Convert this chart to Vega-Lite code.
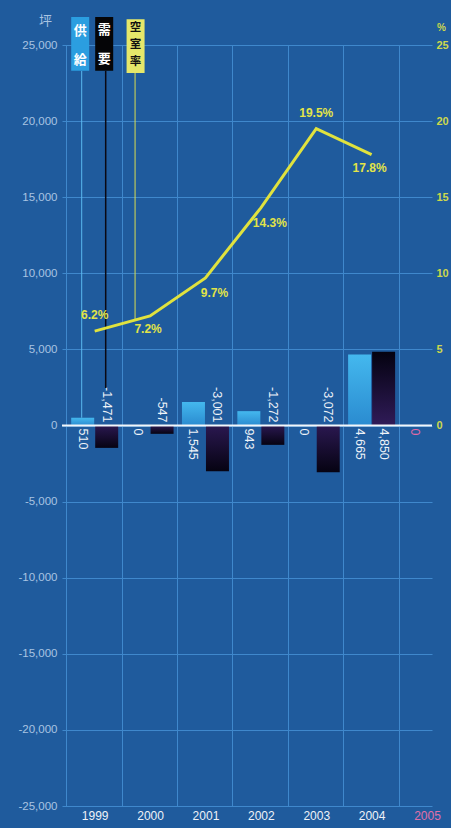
{
  "$schema": "https://vega.github.io/schema/vega-lite/v6.json",
  "width": 370,
  "height": 761,
  "autosize": "none",
  "padding": {"left": 62, "top": 45, "right": 19, "bottom": 22},
  "background": "#1f5b9d",
  "config": {
    "view": {"stroke": null},
    "font": "Liberation Sans, Arial, sans-serif",
    "locale": {"number": {"decimal": ".", "thousands": ",", "grouping": [3], "currency": ["$", ""], "minus": "-"}}
  },
  "datasets": {
    "main": [
      {"year": 1999, "supply": 510, "demand": -1471, "vacancy": 0.062},
      {"year": 2000, "supply": 0, "demand": -547, "vacancy": 0.072},
      {"year": 2001, "supply": 1545, "demand": -3001, "vacancy": 0.097},
      {"year": 2002, "supply": 943, "demand": -1272, "vacancy": 0.143},
      {"year": 2003, "supply": 0, "demand": -3072, "vacancy": 0.195},
      {"year": 2004, "supply": 4665, "demand": 4850, "vacancy": 0.178},
      {"year": 2005, "supply": 0, "demand": null, "vacancy": null}
    ]
  },
  "data": {"name": "main"},
  "layer": [
    {
      "layer": [
        {
          "transform": [{"filter": "datum.supply > 0"}],
          "mark": {"type": "bar", "orient": "vertical", "size": 23, "xOffset": -12,
            "color": {"gradient": "linear", "x1": 0, "y1": 0, "x2": 0, "y2": 1,
              "stops": [{"offset": 0, "color": "#44b8ee"}, {"offset": 1, "color": "#2a8bd0"}]}},
          "encoding": {
            "x": {"field": "year", "type": "quantitative",
              "scale": {"domain": [1998.5, 2005], "nice": false, "zero": false},
              "axis": {"title": null, "values": [1999, 2000, 2001, 2002, 2003, 2004, 2005], "format": "d",
                "grid": true, "gridColor": "#3f88cc", "gridWidth": 1, "tickOffset": -28.46, "labelOffset": 28.46,
                "labelFlush": true, "ticks": false, "domain": false, "labelPadding": 4, "labelFontSize": 12,
                "labelColor": {"condition": {"test": "datum.value == 2005", "value": "#e070a8"}, "value": "#eef2f8"}}},
            "y": {"field": "supply", "type": "quantitative", "title": "坪",
              "scale": {"domain": [-25000, 25000], "nice": false},
              "axis": {"titleAngle": 0, "titleX": -17, "titleY": -25, "titleAlign": "center", "titleBaseline": "middle",
                "titleColor": "#a9c4e2", "titleFontSize": 13, "titleFontWeight": "normal", "titleFont": "Noto Sans CJK JP",
                "values": [-25000, -20000, -15000, -10000, -5000, 0, 5000, 10000, 15000, 20000, 25000],
                "format": ",d", "grid": true, "gridColor": "#3f88cc", "ticks": false, "domain": false,
                "labelColor": "#a9c4e2", "labelFontSize": 11.5, "labelPadding": 5}}
          }
        },
        {
          "transform": [{"filter": "datum.demand > 0"}],
          "mark": {"type": "bar", "orient": "vertical", "size": 23, "xOffset": 12,
            "color": {"gradient": "linear", "x1": 0, "y1": 0, "x2": 0, "y2": 1,
              "stops": [{"offset": 0, "color": "#040210"}, {"offset": 1, "color": "#301b58"}]}},
          "encoding": {
            "x": {"field": "year", "type": "quantitative", "title": null},
            "y": {"field": "demand", "type": "quantitative", "title": "坪"}
          }
        },
        {
          "transform": [{"filter": "datum.demand < 0"}],
          "mark": {"type": "bar", "orient": "vertical", "size": 23, "xOffset": 12,
            "color": {"gradient": "linear", "x1": 0, "y1": 0, "x2": 0, "y2": 1,
              "stops": [{"offset": 0, "color": "#2a1850"}, {"offset": 1, "color": "#060312"}]}},
          "encoding": {
            "x": {"field": "year", "type": "quantitative", "title": null},
            "y": {"field": "demand", "type": "quantitative", "title": "坪"}
          }
        },
        {
          "data": {"values": [{}]},
          "mark": {"type": "rule", "color": "#f2f6fa", "strokeWidth": 2},
          "encoding": {"y": {"datum": 0}}
        },
        {
          "transform": [{"filter": "datum.supply != null"}],
          "mark": {"type": "text", "angle": 90, "align": "left", "baseline": "middle", "dx": 3, "xOffset": -12, "fontSize": 12.5},
          "encoding": {
            "x": {"field": "year", "type": "quantitative", "title": null},
            "y": {"datum": 0},
            "text": {"field": "supply", "type": "quantitative", "format": ","},
            "color": {"condition": {"test": "datum.year == 2005", "value": "#e36aa5"}, "value": "#eef2f8"}
          }
        },
        {
          "transform": [{"filter": "datum.demand != null && datum.demand >= 0"}],
          "mark": {"type": "text", "angle": 90, "align": "left", "baseline": "middle", "dx": 3, "xOffset": 12, "fontSize": 12.5, "color": "#eef2f8"},
          "encoding": {
            "x": {"field": "year", "type": "quantitative", "title": null},
            "y": {"datum": 0},
            "text": {"field": "demand", "type": "quantitative", "format": ","}
          }
        },
        {
          "transform": [{"filter": "datum.demand != null && datum.demand < 0"}],
          "mark": {"type": "text", "angle": 90, "align": "right", "baseline": "middle", "dx": -3, "xOffset": 12, "fontSize": 12.5, "color": "#eef2f8"},
          "encoding": {
            "x": {"field": "year", "type": "quantitative", "title": null},
            "y": {"datum": 0},
            "text": {"field": "demand", "type": "quantitative", "format": ","}
          }
        },
        {
          "data": {"values": [{}]},
          "mark": {"type": "rule", "color": "#5ab8ee", "strokeWidth": 1, "xOffset": -13},
          "encoding": {"x": {"datum": 1999}, "y": {"datum": 23300}, "y2": {"datum": 510}}
        },
        {
          "data": {"values": [{}]},
          "mark": {"type": "rule", "color": "#0a0812", "strokeWidth": 1.5, "xOffset": 11},
          "encoding": {"x": {"datum": 1999}, "y": {"datum": 23300}, "y2": {"datum": 2464}}
        },
        {
          "data": {"values": [{}]},
          "mark": {"type": "rule", "color": "#d8dc50", "strokeWidth": 1, "xOffset": -15},
          "encoding": {"x": {"datum": 2000}, "y": {"datum": 23160}, "y2": {"datum": 6930}}
        },
        {
          "data": {"values": [{}]},
          "mark": {"type": "bar", "orient": "vertical", "size": 18, "xOffset": -14.5, "color": "#2b9ee0"},
          "encoding": {"x": {"datum": 1999}, "y": {"datum": 26840}, "y2": {"datum": 23300}}
        },
        {
          "data": {"values": [{}]},
          "mark": {"type": "bar", "orient": "vertical", "size": 18, "xOffset": 9.5, "color": "#050507"},
          "encoding": {"x": {"datum": 1999}, "y": {"datum": 26840}, "y2": {"datum": 23300}}
        },
        {
          "data": {"values": [{}]},
          "mark": {"type": "bar", "orient": "vertical", "size": 18, "xOffset": -14.5, "color": "#e6e86a"},
          "encoding": {"x": {"datum": 2000}, "y": {"datum": 26700}, "y2": {"datum": 23160}}
        },
        {
          "data": {"values": [{}]},
          "mark": {"type": "text", "text": ["供", "給"], "font": "Noto Sans CJK JP", "fontWeight": "bold", "fontSize": 13, "lineHeight": 29, "align": "center", "baseline": "middle", "xOffset": -14.5, "color": "#ffffff"},
          "encoding": {"x": {"datum": 1999}, "y": {"datum": 25920}}
        },
        {
          "data": {"values": [{}]},
          "mark": {"type": "text", "text": ["需", "要"], "font": "Noto Sans CJK JP", "fontWeight": "bold", "fontSize": 13, "lineHeight": 29, "align": "center", "baseline": "middle", "xOffset": 9.5, "color": "#ffffff"},
          "encoding": {"x": {"datum": 1999}, "y": {"datum": 25980}}
        },
        {
          "data": {"values": [{}]},
          "mark": {"type": "text", "text": ["空", "室", "率"], "font": "Noto Sans CJK JP", "fontWeight": "bold", "fontSize": 11.5, "lineHeight": 17, "align": "center", "baseline": "middle", "xOffset": -14.5, "color": "#111111"},
          "encoding": {"x": {"datum": 2000}, "y": {"datum": 26120}}
        }
      ]
    },
    {
      "transform": [{"filter": "datum.vacancy != null"}],
      "layer": [
        {
          "mark": {"type": "line", "color": "#e0e23e", "strokeWidth": 3},
          "encoding": {
            "x": {"field": "year", "type": "quantitative", "title": null},
            "y": {"field": "vacancy", "type": "quantitative", "title": "%",
              "scale": {"domain": [-0.25, 0.25], "nice": false},
              "axis": {"orient": "right", "values": [0, 0.05, 0.1, 0.15, 0.2, 0.25], "format": ".0%",
                "labelExpr": "replace(datum.label, '%', '')", "grid": false, "ticks": false, "domain": false,
                "labelColor": "#cdd84c", "labelFontSize": 11, "labelFontWeight": "bold", "labelPadding": 4,
                "titleAngle": 0, "titleX": 9, "titleY": -18, "titleAlign": "center", "titleBaseline": "middle",
                "titleColor": "#cdd84c", "titleFontSize": 10, "titleFontWeight": "bold"}}
          }
        },
        {
          "transform": [{"filter": "datum.year == 1999 || datum.year == 2003"}],
          "mark": {"type": "text", "dy": -16, "fontSize": 12, "fontWeight": "bold", "color": "#e2e448"},
          "encoding": {
            "x": {"field": "year", "type": "quantitative", "title": null},
            "y": {"field": "vacancy", "type": "quantitative", "title": "%"},
            "text": {"field": "vacancy", "type": "quantitative", "format": ".1%"}
          }
        },
        {
          "transform": [{"filter": "datum.year == 2000 || datum.year == 2004"}],
          "mark": {"type": "text", "dy": 13, "dx": -2, "fontSize": 12, "fontWeight": "bold", "color": "#e2e448"},
          "encoding": {
            "x": {"field": "year", "type": "quantitative", "title": null},
            "y": {"field": "vacancy", "type": "quantitative", "title": "%"},
            "text": {"field": "vacancy", "type": "quantitative", "format": ".1%"}
          }
        },
        {
          "transform": [{"filter": "datum.year == 2001 || datum.year == 2002"}],
          "mark": {"type": "text", "dy": 15, "dx": 9, "fontSize": 12, "fontWeight": "bold", "color": "#e2e448"},
          "encoding": {
            "x": {"field": "year", "type": "quantitative", "title": null},
            "y": {"field": "vacancy", "type": "quantitative", "title": "%"},
            "text": {"field": "vacancy", "type": "quantitative", "format": ".1%"}
          }
        }
      ]
    }
  ],
  "resolve": {"scale": {"y": "independent"}}
}
